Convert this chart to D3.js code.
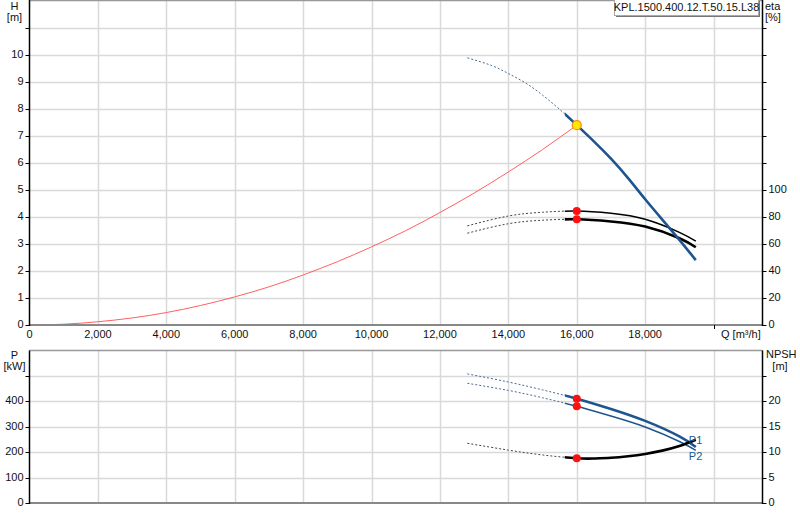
<!DOCTYPE html>
<html><head><meta charset="utf-8">
<script src="https://cdn.jsdelivr.net/npm/d3@7"></script>
<style>
html,body{margin:0;padding:0;background:#fff;}
svg{display:block;font-family:"Liberation Sans",Arial,sans-serif;}
</style></head>
<body>
<svg id="c" width="800" height="520"></svg>
<script>
// ---- data ----
const title = "KPL.1500.400.12.T.50.15.L38";
const xTicks = [0, 2000, 4000, 6000, 8000, 10000, 12000, 14000, 16000, 18000, 20000];
const hTicks = [0,1,2,3,4,5,6,7,8,9,10,11];
const etaTicks = [0,20,40,60,80,100,120,140,160,180,200,220];
const pTicks = [0,100,200,300,400,500];
const npshTicks = [0,5,10,15,20,25];

const dutyQ = 16000;
const solidFromQ = 15650;

// pump head curve H [m]
const qH = [12800, 13500, 14000, 14500, 15000, 15500, 16000, 16500, 17000, 17500, 18000, 18500, 19000, 19480];
const hH = [9.88, 9.6, 9.3, 8.95, 8.5, 7.97, 7.39, 6.79, 6.15, 5.43, 4.65, 3.9, 3.15, 2.40];
const dutyH = 7.39;

// system curve H [m]
const qSys = [0, 1000, 2000, 3000, 4000, 5000, 6000, 7000, 8000, 9000, 10000, 11000, 12000, 13000, 14000, 15000, 16000];
const hSys = [0, 0.03, 0.12, 0.26, 0.46, 0.72, 1.04, 1.41, 1.85, 2.34, 2.89, 3.49, 4.16, 4.88, 5.66, 6.49, 7.39];

// efficiency curves eta [%]
const qEta = [12800, 14000, 15000, 16000, 17000, 18000, 19000, 19480];
const eta1 = [73.3, 80.6, 83.4, 84.3, 82.6, 78.2, 68.5, 62.0];
const eta2 = [67.9, 74.9, 77.5, 78.2, 76.6, 72.8, 64.2, 57.5];
const dutyEta1 = 84.3, dutyEta2 = 78.2;

// power curves P [kW]
const qP = [12800, 14000, 15000, 16000, 17000, 18000, 19000, 19480];
const p1 = [508, 476, 445, 410.6, 370, 323, 262, 220];
const p2 = [471, 443, 414, 380.6, 342, 299, 242, 207];
const dutyP1 = 410.6, dutyP2 = 380.6;

// NPSH [m]
const qN = [12800, 14000, 15000, 16000, 16500, 17000, 17500, 18000, 18500, 19000, 19480];
const npsh = [11.75, 10.4, 9.45, 8.8, 8.75, 8.9, 9.2, 9.65, 10.3, 11.2, 12.45];
const dutyNpsh = 8.8;

// ---- layout ----
const svg = d3.select("#c");
const X0 = 29.5, X1 = 762.5;
const x = d3.scaleLinear().domain([0, 21430]).range([X0, X1]);
const yH = d3.scaleLinear().domain([0, 12]).range([325, 0.5]);
const yEta = d3.scaleLinear().domain([0, 240]).range([325, 0.5]);
const yP = d3.scaleLinear().domain([0, 600]).range([503, 350.5]);
const yN = d3.scaleLinear().domain([0, 30]).range([503, 350.5]);

const GRID = "#d9d9d9", BLUE = "#1c5590", FS = 11, TXT = "#111";
const fmt = d3.format(",");

function panel(yScale, ticks, top, bottom) {
  const g = svg.append("g");
  g.selectAll(null).data(ticks.filter(t => t > 0)).join("line")
    .attr("x1", X0).attr("x2", X1)
    .attr("y1", d => Math.round(yScale(d)) + 0.5).attr("y2", d => Math.round(yScale(d)) + 0.5)
    .attr("stroke", GRID).attr("stroke-width", 1.5);
  g.selectAll(null).data(xTicks.filter(t => t > 0)).join("line")
    .attr("x1", d => Math.round(x(d)) + 0.5).attr("x2", d => Math.round(x(d)) + 0.5)
    .attr("y1", top).attr("y2", bottom)
    .attr("stroke", GRID).attr("stroke-width", 1.5);
  g.append("line").attr("x1", X0).attr("x2", X1).attr("y1", top).attr("y2", top)
    .attr("stroke", "#999").attr("stroke-width", 1.5);
  return g;
}

panel(yH, hTicks, 0.5, 325);
panel(yP, pTicks, 350.5, 503);

const defs = svg.append("defs");
defs.append("clipPath").attr("id", "cd").append("rect")
  .attr("x", 0).attr("y", 0).attr("width", x(solidFromQ)).attr("height", 520);
defs.append("clipPath").attr("id", "cs").append("rect")
  .attr("x", x(solidFromQ)).attr("y", 0).attr("width", 800).attr("height", 520);

const line = d3.line().curve(d3.curveNatural);

function curve(qs, vs, yScale, color, width, dashColor) {
  const pts = qs.map((q, i) => [x(q), yScale(vs[i])]);
  svg.append("path").attr("d", line(pts)).attr("fill", "none")
    .attr("stroke", dashColor).attr("stroke-width", 1).attr("stroke-dasharray", "2,2")
    .attr("clip-path", "url(#cd)");
  svg.append("path").attr("d", line(pts)).attr("fill", "none")
    .attr("stroke", color).attr("stroke-width", width)
    .attr("clip-path", "url(#cs)");
}

// system curve
svg.append("path")
  .attr("d", line(qSys.map((q, i) => [x(q), yH(hSys[i])])))
  .attr("fill", "none").attr("stroke", "#ff6060").attr("stroke-width", 1);

curve(qEta, eta1, yEta, "#000", 1.5, "#444");
curve(qEta, eta2, yEta, "#000", 2.6, "#444");
curve(qH, hH, yH, BLUE, 2.6, "#4a6c95");

curve(qP, p2, yP, BLUE, 1.5, "#4a6c95");
curve(qP, p1, yP, BLUE, 2.6, "#4a6c95");
curve(qN, npsh, yN, "#000", 2.6, "#444");

// P labels
svg.append("text").attr("x", x(19480) - 7).attr("y", yP(220) - 6).attr("fill", BLUE)
  .attr("font-size", FS).attr("dominant-baseline", "middle").text("P1");
svg.append("text").attr("x", x(19480) - 7).attr("y", yP(207) + 7).attr("fill", BLUE)
  .attr("font-size", FS).attr("dominant-baseline", "middle").text("P2");

// duty markers
const dots = [[dutyEta1, yEta], [dutyEta2, yEta], [dutyP1, yP], [dutyP2, yP], [dutyNpsh, yN]];
dots.forEach(([v, s]) => svg.append("circle").attr("cx", x(dutyQ)).attr("cy", s(v))
  .attr("r", 4).attr("fill", "#ff1010"));
svg.append("circle").attr("cx", x(dutyQ)).attr("cy", yH(dutyH)).attr("r", 4.5)
  .attr("fill", "#ffe800").attr("stroke", "#ff8a00").attr("stroke-width", 1.2);

function axes(yL, yR, lTicks, rTicks, lMaxLabel, rMaxLabel, top, bottom, xLabels) {
  svg.append("line").attr("x1", X0).attr("x2", X1).attr("y1", bottom).attr("y2", bottom)
    .attr("stroke", "#888").attr("stroke-width", 2);
  svg.append("line").attr("x1", X0).attr("x2", X0).attr("y1", top).attr("y2", bottom + 1)
    .attr("stroke", "#000").attr("stroke-width", 1.5);
  svg.append("line").attr("x1", X1).attr("x2", X1).attr("y1", top).attr("y2", bottom + 1)
    .attr("stroke", "#000").attr("stroke-width", 1.5);
  lTicks.forEach(t => {
    const yy = Math.round(yL(t)) + 0.5;
    svg.append("line").attr("x1", X0 - 4).attr("x2", X0).attr("y1", yy).attr("y2", yy)
      .attr("stroke", "#000").attr("stroke-width", 1);
    if (t <= lMaxLabel) svg.append("text").attr("x", X0 - 6).attr("y", yy).attr("text-anchor", "end")
      .attr("dominant-baseline", "middle").attr("font-size", FS).attr("fill", TXT).text(fmt(t));
  });
  rTicks.forEach(t => {
    const yy = Math.round(yR(t)) + 0.5;
    svg.append("line").attr("x1", X1).attr("x2", X1 + 4).attr("y1", yy).attr("y2", yy)
      .attr("stroke", "#000").attr("stroke-width", 1);
    if (t <= rMaxLabel) svg.append("text").attr("x", X1 + 6).attr("y", yy)
      .attr("dominant-baseline", "middle").attr("font-size", FS).attr("fill", TXT).text(fmt(t));
  });
  if (xLabels) {
    xTicks.forEach(t => {
      if (t < 20000) svg.append("text").attr("x", x(t)).attr("y", bottom + 10).attr("text-anchor", "middle")
        .attr("dominant-baseline", "middle").attr("font-size", FS).attr("fill", TXT).text(fmt(t));
    });
    svg.append("line").attr("x1", Math.round(x(20000)) + 0.5).attr("x2", Math.round(x(20000)) + 0.5)
      .attr("y1", bottom).attr("y2", bottom + 4).attr("stroke", "#000").attr("stroke-width", 1);
  }
}
axes(yH, yEta, hTicks, etaTicks, 10, 100, 0, 325, true);
axes(yP, yN, pTicks, npshTicks, 400, 20, 350.5, 503, false);

function label(tx, ty, s, anchor) {
  svg.append("text").attr("x", tx).attr("y", ty).attr("text-anchor", anchor || "middle")
    .attr("dominant-baseline", "middle").attr("font-size", FS).attr("fill", TXT).text(s);
}
label(14.5, 7, "H"); label(14.5, 18, "[m]");
label(14.5, 356, "P"); label(14.5, 367, "[kW]");
label(765, 7, "eta", "start"); label(765, 18, "[%]", "start");
label(766, 355, "NPSH", "start"); label(780, 367, "[m]");
label(721, 335, "Q [m³/h]", "start");

// title box
svg.append("rect").attr("x", 616).attr("y", 1).attr("width", 144).attr("height", 16)
  .attr("fill", "#777");
svg.append("rect").attr("x", 614.5).attr("y", -0.5).attr("width", 144).attr("height", 16)
  .attr("fill", "#fff").attr("stroke", "#aaa").attr("stroke-width", 1);
svg.append("text").attr("x", 686.5).attr("y", 8).attr("text-anchor", "middle")
  .attr("dominant-baseline", "middle").attr("font-size", FS).attr("fill", TXT).text(title);
</script>
</body></html>
